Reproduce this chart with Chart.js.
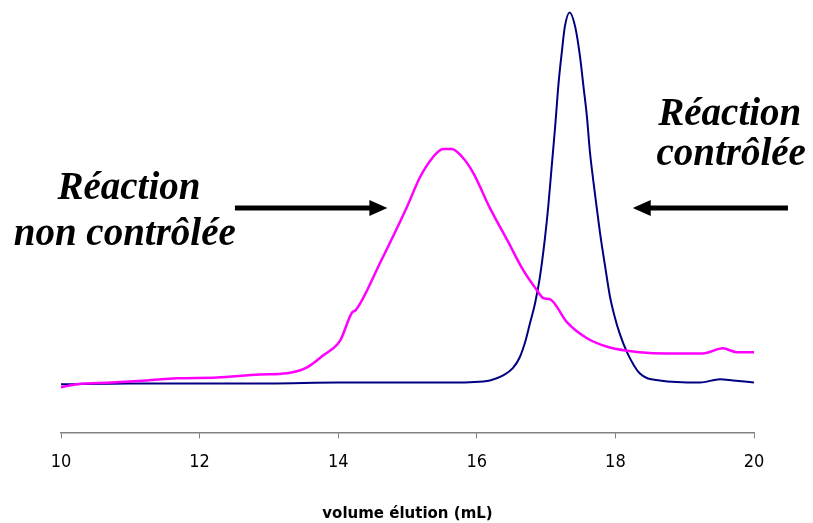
<!DOCTYPE html>
<html>
<head>
<meta charset="utf-8">
<script src="https://cdn.jsdelivr.net/npm/chart.js@4"></script>
<style>
  html,body{margin:0;padding:0;background:#fff;}
  #wrap{width:813px;height:523px;}
</style>
</head>
<body>
<div id="wrap"><canvas id="chart" width="813" height="523"></canvas></div>
<script>
// elution volumes (mL) and detector signal
const volNonCtrl = [10.0,10.23,10.74,11.24,11.67,12.25,12.87,13.26,13.55,13.78,14.03,14.2,14.25,14.6,14.99,15.18,15.37,15.51,15.64,15.79,15.95,16.19,16.44,16.67,16.87,16.96,17.06,17.3,17.59,17.92,18.35,18.74,19.26,19.55,19.75,20.0];
const sigNonCtrl = [10.7,11.4,11.8,12.3,12.8,13.0,13.7,14.0,15.4,18.2,21.8,28.4,28.9,40.0,53.3,60.4,65.2,67.1,67.1,65.2,61.4,53.1,45.5,38.4,33.6,31.8,31.5,26.1,22.3,20.1,19.0,18.7,18.7,19.9,19.0,19.0];

const volCtrl = [10.0,11.0,12.0,13.0,14.0,15.0,15.5,15.9,16.19,16.38,16.52,16.62,16.7,16.77,16.84,16.91,16.98,17.03,17.08,17.13,17.18,17.23,17.27,17.34,17.42,17.49,17.54,17.59,17.63,17.68,17.73,17.78,17.85,17.92,17.98,18.06,18.17,18.35,18.64,19.22,19.51,19.7,20.0];
const sigCtrl = [11.4,11.6,11.6,11.6,11.8,11.8,11.8,11.9,12.3,13.5,15.2,17.8,21.5,26.0,30.5,36.7,45.5,53.3,62.8,72.3,82.7,90.5,96.0,99.4,96.0,88.9,81.8,74.6,66.8,59.7,53.3,47.0,39.5,32.3,28.0,23.5,18.9,14.0,12.3,11.8,12.6,12.3,11.8];

const xTicks = [10,12,14,16,18,20];
const xTitle = 'volume élution (mL)';

// annotation texts + arrows
const annotations = [
  {lines:['Réaction','non contrôlée'], x:[10.98,10.92], y:[55.2,44.3]},
  {lines:['Réaction','contrôlée'], x:[19.65,19.67], y:[72.7,63.3]}
];
const arrows = [
  {from:[12.51,53.1], to:[14.71,53.1]},
  {from:[20.49,53.1], to:[18.25,53.1]}
];

function pts(xs, ys){ return xs.map((x,i)=>({x:x, y:ys[i]})); }

const annotPlugin = {
  id:'annot',
  afterDraw(chart){
    const ctx = chart.ctx, xs = chart.scales.x, ys = chart.scales.y;
    ctx.save();
    ctx.fillStyle = '#000';
    ctx.font = 'italic bold 39px "Liberation Serif", "Times New Roman", serif';
    ctx.textAlign = 'center';
    ctx.textBaseline = 'alphabetic';
    annotations.forEach(a=>{
      a.lines.forEach((t,i)=>{ ctx.fillText(t, xs.getPixelForValue(a.x[i]), ys.getPixelForValue(a.y[i])); });
    });
    arrows.forEach(ar=>{
      const x1 = xs.getPixelForValue(ar.from[0]), y1 = ys.getPixelForValue(ar.from[1]);
      const x2 = xs.getPixelForValue(ar.to[0]), y2 = ys.getPixelForValue(ar.to[1]);
      const dir = x2 > x1 ? 1 : -1;
      ctx.strokeStyle = '#000'; ctx.lineWidth = 5;
      ctx.beginPath(); ctx.moveTo(x1,y1); ctx.lineTo(x2 - dir*14, y2); ctx.stroke();
      ctx.beginPath(); ctx.moveTo(x2,y2); ctx.lineTo(x2 - dir*18, y2-8); ctx.lineTo(x2 - dir*18, y2+8); ctx.closePath(); ctx.fill();
    });
    ctx.restore();
  }
};

new Chart(document.getElementById('chart'), {
  type:'line',
  data:{ datasets:[
    { label:'non contrôlée', data:pts(volNonCtrl, sigNonCtrl), borderColor:'#ff00ff', borderWidth:2.5, pointRadius:0, cubicInterpolationMode:'monotone', fill:false },
    { label:'contrôlée', data:pts(volCtrl, sigCtrl), borderColor:'#000080', borderWidth:2, pointRadius:0, cubicInterpolationMode:'monotone', fill:false }
  ]},
  options:{
    responsive:false, animation:false,
    layout:{ padding:{ left:61, right:59, top:10, bottom:0 } },
    plugins:{ legend:{display:false}, tooltip:{enabled:false} },
    scales:{
      x:{ type:'linear', min:10, max:20,
        afterBuildTicks(ax){ ax.ticks = xTicks.map(v=>({value:v})); },
        grid:{ drawOnChartArea:false, drawTicks:true, tickLength:6, color:'#808080' },
        border:{ color:'#808080', width:1.5 },
        ticks:{ color:'#000', padding:13, font:{ family:'"DejaVu Sans Condensed", "DejaVu Sans", sans-serif', size:18 } },
        title:{ display:true, text:xTitle, color:'#000', font:{ family:'"DejaVu Sans", sans-serif', size:15, weight:'bold' }, padding:{ top:19, bottom:0 } }
      },
      y:{ display:false, min:0, max:100 }
    }
  },
  plugins:[annotPlugin]
});
</script>
</body>
</html>
